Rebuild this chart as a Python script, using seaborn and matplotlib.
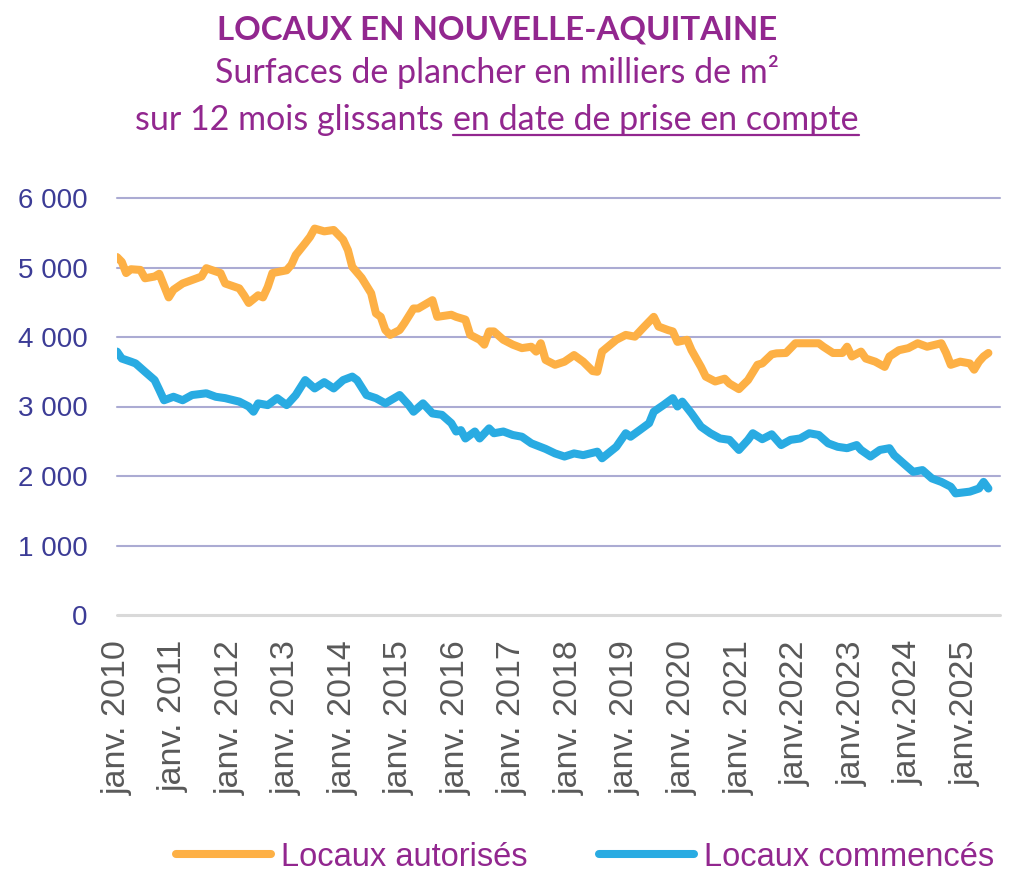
import matplotlib
matplotlib.use("Agg")
import matplotlib.pyplot as plt
from matplotlib.lines import Line2D
import pandas as pd
import seaborn as sns

# Locaux autorisés (milliers de m², 12 mois glissants)
aut_mois = ["2010-01", "2010-02", "2010-03", "2010-04", "2010-06", "2010-07", "2010-09", "2010-10",
            "2010-12", "2011-01", "2011-03", "2011-05", "2011-07", "2011-08", "2011-11", "2011-12",
            "2012-03", "2012-04", "2012-05", "2012-07", "2012-08", "2012-09", "2012-10", "2013-01",
            "2013-02", "2013-03", "2013-05", "2013-06", "2013-07", "2013-09", "2013-11", "2014-01",
            "2014-02", "2014-03", "2014-05", "2014-07", "2014-08", "2014-09", "2014-10", "2014-11",
            "2015-01", "2015-02", "2015-04", "2015-05", "2015-08", "2015-09", "2015-12", "2016-01",
            "2016-03", "2016-04", "2016-06", "2016-07", "2016-08", "2016-09", "2016-11", "2017-01",
            "2017-03", "2017-05", "2017-06", "2017-07", "2017-08", "2017-10", "2017-12", "2018-02",
            "2018-04", "2018-06", "2018-07", "2018-08", "2018-11", "2019-01", "2019-03", "2019-05",
            "2019-07", "2019-08", "2019-10", "2019-11", "2019-12", "2020-02", "2020-03", "2020-05",
            "2020-06", "2020-08", "2020-10", "2020-11", "2021-01", "2021-03", "2021-05", "2021-06",
            "2021-08", "2021-09", "2021-11", "2022-01", "2022-04", "2022-06", "2022-07", "2022-09",
            "2022-11", "2022-12", "2023-01", "2023-03", "2023-04", "2023-06", "2023-08", "2023-09",
            "2023-11", "2024-01", "2024-03", "2024-05", "2024-08", "2024-09", "2024-10", "2024-12",
            "2025-02", "2025-03", "2025-04", "2025-05", "2025-06"]
aut_vals = [5150, 5080, 4920, 4975, 4965, 4845, 4870, 4910,
            4570, 4680, 4770, 4820, 4870, 4990, 4920, 4770,
            4700, 4600, 4490, 4600, 4570, 4720, 4920, 4960,
            5040, 5180, 5350, 5440, 5560, 5520, 5540, 5400,
            5250, 5010, 4850, 4630, 4340, 4290, 4100, 4030,
            4100, 4200, 4410, 4410, 4530, 4290, 4320, 4290,
            4250, 4030, 3960, 3890, 4080, 4080, 3960, 3890,
            3840, 3860, 3790, 3910, 3670, 3600, 3645, 3740,
            3645, 3510, 3500, 3790, 3960, 4030, 4005, 4150,
            4290, 4150, 4100, 4080, 3930, 3960, 3810, 3570,
            3430, 3360, 3400, 3330, 3250, 3380, 3600, 3620,
            3750, 3765, 3770, 3910, 3910, 3910, 3860, 3770,
            3770, 3860, 3720, 3790, 3690, 3645, 3570, 3720,
            3810, 3840, 3910, 3860, 3910, 3770, 3600, 3645,
            3620, 3530, 3645, 3720, 3770]

# Locaux commencés
com_mois = ["2010-01", "2010-02", "2010-04", "2010-05", "2010-07", "2010-09", "2010-10", "2010-11",
            "2011-01", "2011-03", "2011-05", "2011-08", "2011-10", "2011-12", "2012-03", "2012-05",
            "2012-06", "2012-07", "2012-09", "2012-11", "2013-01", "2013-03", "2013-05", "2013-07",
            "2013-09", "2013-11", "2014-01", "2014-03", "2014-04", "2014-06", "2014-08", "2014-10",
            "2015-01", "2015-03", "2015-04", "2015-06", "2015-08", "2015-10", "2015-12", "2016-01",
            "2016-02", "2016-03", "2016-05", "2016-06", "2016-08", "2016-09", "2016-11", "2017-01",
            "2017-03", "2017-05", "2017-08", "2017-10", "2017-12", "2018-02", "2018-04", "2018-07",
            "2018-08", "2018-11", "2019-01", "2019-02", "2019-04", "2019-06", "2019-07", "2019-09",
            "2019-11", "2019-12", "2020-01", "2020-03", "2020-05", "2020-07", "2020-09", "2020-11",
            "2021-01", "2021-03", "2021-04", "2021-06", "2021-08", "2021-10", "2021-12", "2022-02",
            "2022-04", "2022-06", "2022-08", "2022-10", "2022-12", "2023-02", "2023-03", "2023-05",
            "2023-07", "2023-09", "2023-10", "2023-12", "2024-02", "2024-04", "2024-06", "2024-08",
            "2024-10", "2024-11", "2025-02", "2025-04", "2025-05", "2025-06"]
com_vals = [3790, 3690, 3645, 3620, 3500, 3380, 3240, 3090,
            3140, 3090, 3165, 3190, 3140, 3120, 3070, 3000,
            2925, 3045, 3020, 3120, 3020, 3165, 3380, 3260,
            3350, 3260, 3380, 3430, 3380, 3165, 3120, 3045,
            3165, 3020, 2925, 3045, 2900, 2880, 2760, 2640,
            2660, 2540, 2640, 2540, 2685, 2615, 2640, 2590,
            2565, 2470, 2390, 2325, 2280, 2325, 2300, 2350,
            2255, 2420, 2615, 2565, 2660, 2760, 2925, 3020,
            3120, 3000, 3070, 2900, 2710, 2615, 2540, 2520,
            2375, 2520, 2615, 2530, 2600, 2445, 2520, 2540,
            2615, 2590, 2470, 2420, 2400, 2445, 2375, 2280,
            2375, 2400, 2300, 2180, 2060, 2085, 1965, 1915,
            1845, 1750, 1775, 1820, 1915, 1820]

annees = list(range(2010, 2026))
y_ticks = [0, 1000, 2000, 3000, 4000, 5000, 6000]

VIOLET = "#92278F"
ORANGE = "#FDB045"
BLEU = "#29ABE2"

sns.set_style("white")
plt.rcParams["font.family"] = ["Liberation Sans", "DejaVu Sans"]

df_aut = pd.DataFrame({"date": pd.to_datetime(aut_mois), "valeur": aut_vals})
df_com = pd.DataFrame({"date": pd.to_datetime(com_mois), "valeur": com_vals})

W, H = 1017, 874
fig = plt.figure(figsize=(W / 100, H / 100), dpi=100)
ax = fig.add_axes([117 / W, 1 - 615 / H, (1000 - 117) / W, (615 - 198) / H])

# grille horizontale
for v in y_ticks:
    if v == 0:
        ax.axhline(v, color="#D9D9D9", lw=2.2, zorder=1, clip_on=False)
    else:
        ax.axhline(v, color="#ABABD3", lw=1.5, zorder=1, clip_on=False)

sns.lineplot(data=df_aut, x="date", y="valeur", color=ORANGE, lw=5.8,
             label="Locaux autorisés", ax=ax, zorder=3)
sns.lineplot(data=df_com, x="date", y="valeur", color=BLEU, lw=5.8,
             label="Locaux commencés", ax=ax, zorder=3)

ax.set_ylim(0, 6000)
ax.set_xlim(pd.Timestamp("2010-01-01"), pd.Timestamp("2025-08-15"))
ax.set_yticks(y_ticks)
ax.set_yticklabels(["{:,}".format(v).replace(",", " ") for v in y_ticks],
                   color="#3C3C96", fontsize=20)
ax.set_xticks([pd.Timestamp(f"{a}-01-01") for a in annees])
ax.set_xticklabels([f"janv. {a}" if a <= 2021 else f"janv.{a}" for a in annees],
                   rotation=90, color="#595959", fontsize=24.5, ha="center", va="top")
ax.tick_params(axis="both", length=0)
ax.tick_params(axis="y", pad=21)
ax.tick_params(axis="x", pad=18)
ax.set_xlabel("")
ax.set_ylabel("")
for s in ax.spines.values():
    s.set_visible(False)
ax.get_legend().remove()

# légende en bas
handles, labels = ax.get_legend_handles_labels()
leg = fig.legend(handles, labels, loc="center", bbox_to_anchor=(585 / W, 1 - 857 / H),
                 ncol=2, frameon=False, handlelength=2.9, handletextpad=0.3,
                 columnspacing=2.2, borderpad=0.1,
                 prop={"family": ["Liberation Sans", "DejaVu Sans"], "size": 23.5})
for t in leg.get_texts():
    t.set_color(VIOLET)

# titres
cx = 497 / W
fig.text(cx, 1 - 39 / H, "LOCAUX EN NOUVELLE-AQUITAINE", ha="center", va="baseline",
         fontsize=23.8, fontweight="bold", color=VIOLET, family=["Lato", "DejaVu Sans"])
fig.text(cx, 1 - 83 / H, "Surfaces de plancher en milliers de m²", ha="center", va="baseline",
         fontsize=24.5, color=VIOLET, family=["Lato", "DejaVu Sans"])
t1 = fig.text(0, 1 - 130 / H, "sur 12 mois glissants", ha="left", va="baseline",
              fontsize=24.5, color=VIOLET, family=["Lato", "DejaVu Sans"])
t2 = fig.text(0, 1 - 130 / H, "en date de prise en compte", ha="left", va="baseline",
              fontsize=24.5, color=VIOLET, family=["Lato", "DejaVu Sans"])

fig.canvas.draw()
r = fig.canvas.get_renderer()
w1 = t1.get_window_extent(r).width
w2 = t2.get_window_extent(r).width
gap = 24.5 * 1.389 * 0.27
x0 = 497 - (w1 + gap + w2) / 2
t1.set_x(x0 / W)
t2.set_x((x0 + w1 + gap) / W)
fig.canvas.draw()
bb = t2.get_window_extent(r)
y_ul = (H - 135) / H
fig.add_artist(Line2D([bb.x0 / W, bb.x1 / W], [y_ul, y_ul], color=VIOLET, lw=1.6,
                      transform=fig.transFigure))

fig.savefig("out.png", dpi=100)
